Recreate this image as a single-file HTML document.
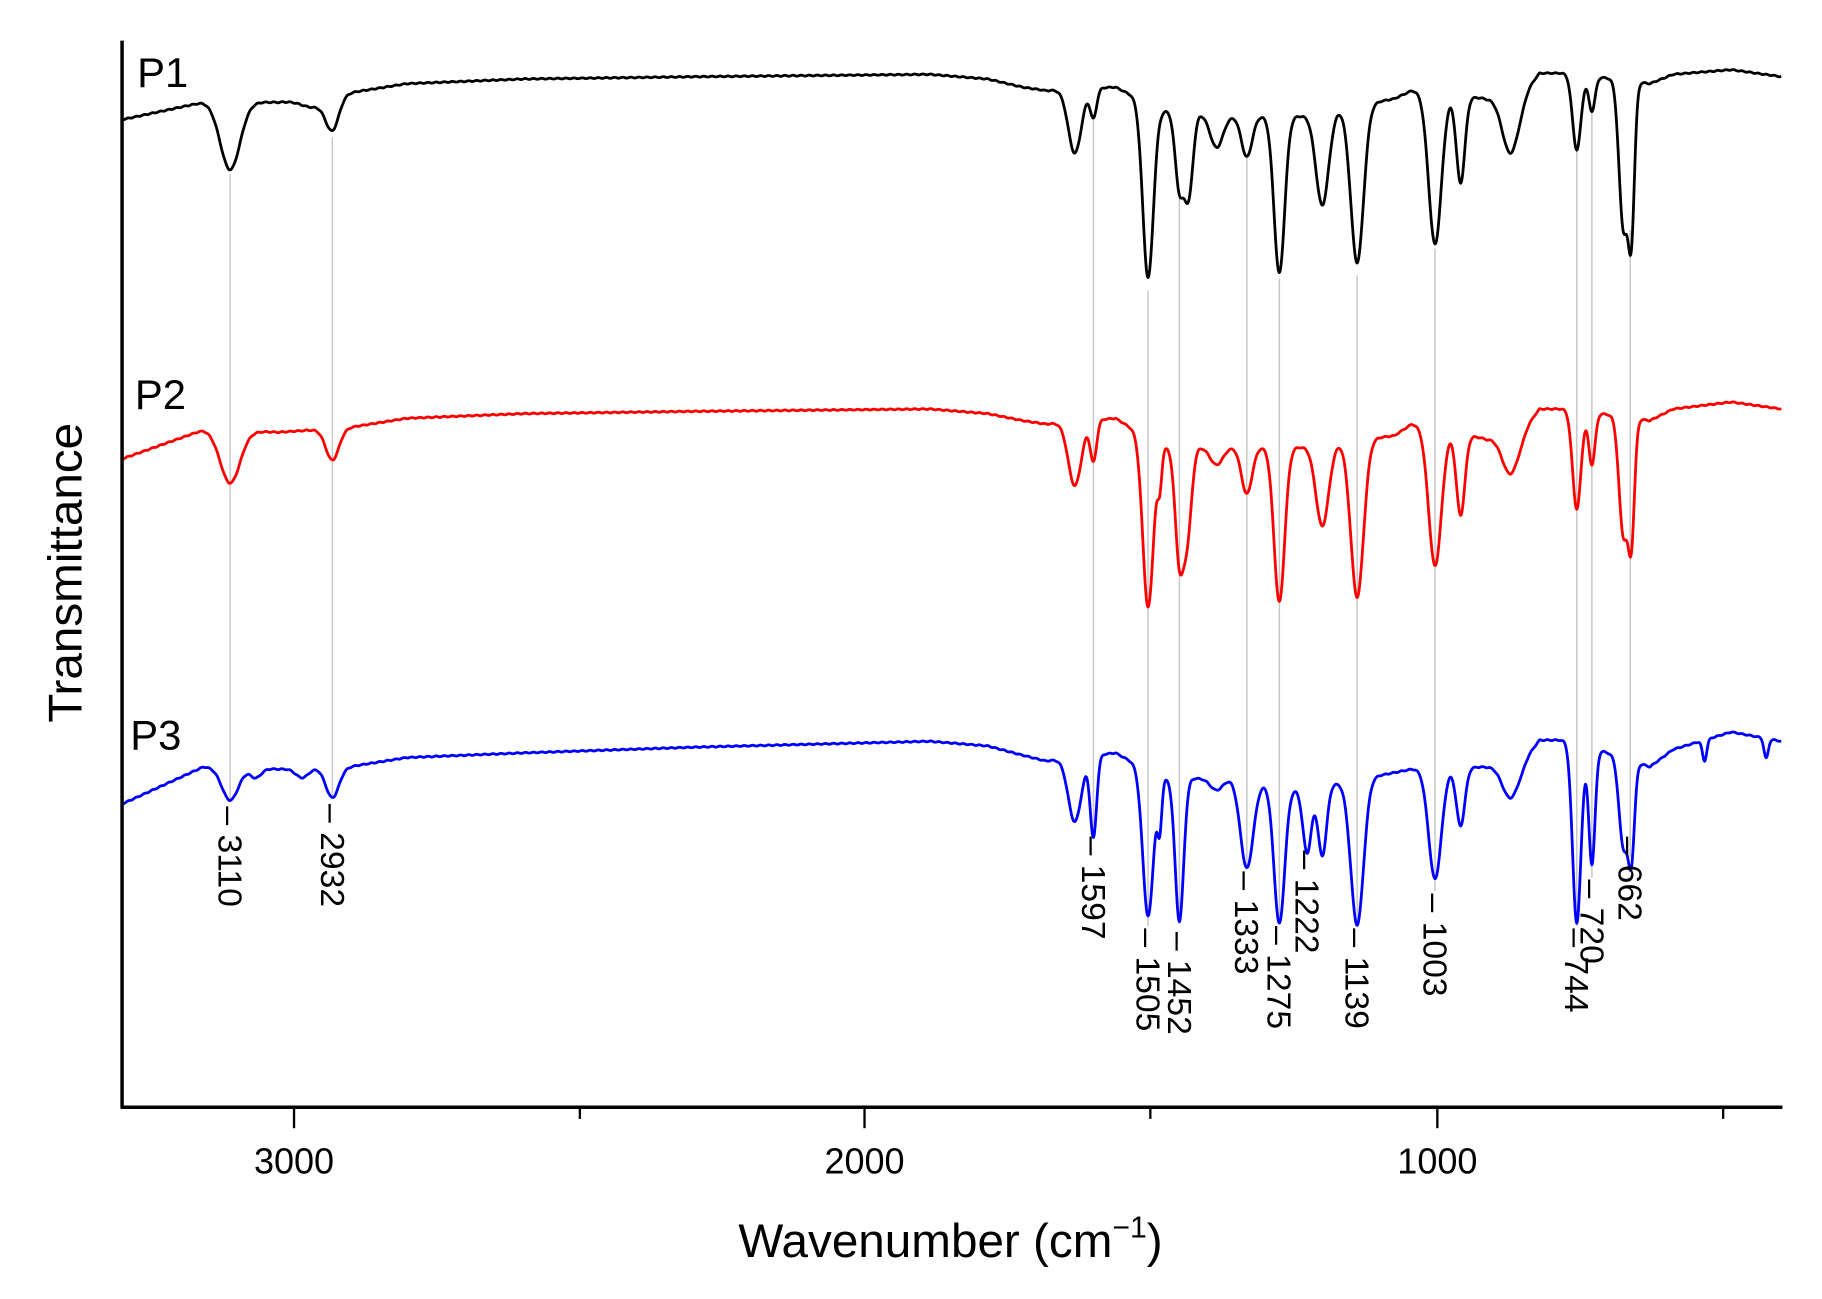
<!DOCTYPE html>
<html><head><meta charset="utf-8"><style>
html,body{margin:0;padding:0;background:#fff;}
svg{display:block;}
text{font-family:"Liberation Sans",Arial,sans-serif;}
</style></head><body>
<svg id="s" width="1822" height="1299" viewBox="0 0 1568 1118" xmlns="http://www.w3.org/2000/svg">
<g id="grid" stroke="#c8c8c8" stroke-width="1.3"></g>
<g id="curves" fill="none" stroke-width="2.4" stroke-linejoin="round"></g>
<line x1="105" y1="35" x2="105" y2="954" stroke="#000" stroke-width="3"/>
<line x1="104" y1="953" x2="1534" y2="953" stroke="#000" stroke-width="3"/>
<g stroke="#000" stroke-width="2">
<line x1="253" y1="953" x2="253" y2="971"/><line x1="744" y1="953" x2="744" y2="971"/><line x1="1237" y1="953" x2="1237" y2="971"/>
<line x1="499" y1="953" x2="499" y2="963"/><line x1="990" y1="953" x2="990" y2="963"/><line x1="1483" y1="953" x2="1483" y2="963"/>
</g>
<g font-size="31" text-anchor="middle">
<text x="253" y="1010">3000</text><text x="744" y="1010">2000</text><text x="1237" y="1010">1000</text>
</g>
<text x="818" y="1082" font-size="41" text-anchor="middle">Wavenumber (cm<tspan dy="-17" font-size="26">−1</tspan><tspan dy="17">)</tspan></text>
<text transform="translate(70,493) rotate(-90)" font-size="41" text-anchor="middle">Transmittance</text>
<g font-size="36"><text x="118" y="75">P1</text><text x="116" y="352">P2</text><text x="112" y="645">P3</text></g>
<g id="labels" font-size="29"></g>
</svg>
<script>
function interp(b,x){for(let i=0;i<b.length-1;i++){if(x>=b[i][0]&&x<=b[i+1][0]){let t=(x-b[i][0])/(b[i+1][0]-b[i][0]);return b[i][1]+t*(b[i+1][1]-b[i][1]);}}return b[b.length-1][1];}
function path(base,dips){let d="";for(let x=105;x<=1533;x+=0.5){let y=interp(base,x);for(const p of dips){let w=p[2]<=6?p[2]*1.3:p[2];y+=p[1]*Math.exp(-Math.pow((x-p[0])/w,2));}
y+=Math.sin(x*0.9)*0.4;d+=(x==105?"M":"L")+x.toFixed(1)+","+y.toFixed(1);}return d;}
const b1=[[105,103],[175,88],[240,88],[300,80],[350,72],[450,68],[600,66],[800,64],[850,68],[880,75],[900,78],[960,75],[1000,95],[1060,100],[1120,100],[1200,85],[1215,78],[1280,85],[1310,80],[1325,63],[1350,63],[1420,72],[1440,64],[1490,60],[1533,66]];
const d1=[[198,58,12],[286,28,8],[270,8,15],[925,55,8],[941,25,3],[988,150,5],[1015,65,4],[1023,70,4],[1047,28,6],[1073,35,5],[1101,135,5],[1138,80,6],[1168,135,6],[1235,130,6],[1257,75,4],[1300,50,10],[1357,65,4],[1370,30,3],[1397,125,4],[1404,125,3]];
const b2=[[105,395],[175,370],[240,372],[300,368],[350,360],[450,356],[600,354],[800,352],[850,356],[880,362],[900,365],[960,360],[1000,385],[1060,385],[1120,385],[1200,375],[1215,365],[1280,378],[1310,370],[1325,352],[1350,352],[1420,362],[1440,352],[1490,346],[1533,352]];
const d2=[[198,45,12],[286,27,8],[925,55,8],[941,35,3],[988,145,5],[998,30,2],[1015,95,4],[1022,70,4],[1047,15,6],[1073,40,5],[1101,133,5],[1138,70,6],[1168,135,6],[1235,118,6],[1257,70,4],[1300,35,10],[1357,85,4],[1370,45,3],[1397,100,4],[1404,100,3]];
const b3=[[105,692],[175,660],[240,662],[300,660],[350,652],[450,648],[600,643],[800,638],[850,642],[880,650],[900,655],[960,648],[1000,670],[1060,670],[1120,680],[1200,665],[1215,662],[1280,660],[1310,655],[1325,637],[1350,637],[1420,660],[1440,645],[1490,630],[1533,638]];
const d3=[[198,28,10],[220,8,5],[286,26,8],[260,8,6],[925,55,8],[941,70,3],[988,125,5],[998,40,2],[1015,123,4],[1047,10,6],[1073,75,6],[1101,118,5],[1125,55,4],[1138,60,4],[1168,125,6],[1235,95,6],[1257,50,4],[1300,30,10],[1357,155,4],[1370,100,3],[1397,75,4],[1404,80,3],[1467,18,2],[1520,17,2]];
const c=document.getElementById("curves");
[[b1,d1,"#000"],[b2,d2,"#ff0000"],[b3,d3,"#0000ff"]].forEach(s=>{const p=document.createElementNS("http://www.w3.org/2000/svg","path");p.setAttribute("d",path(s[0],s[1]));p.setAttribute("stroke",s[2]);c.appendChild(p);});
const g=document.getElementById("grid");
const L=[[198,150,690,"3110",692],[286,118,688,"2932",690],[941,100,718,"1597",718],[988,250,797,"1505",797],[1015,170,795,"1452",800],[1073,135,745,"1333",748],[1101,240,792,"1275",795],[1125,0,0,"1222",730],[1168,237,797,"1139",797],[1235,214,767,"1003",767],[1357,130,797,"744",797],[1370,97,755,"720",755],[1403,198,738,"662",718]];
const lab=document.getElementById("labels");
L.forEach(l=>{if(l[1]){const ln=document.createElementNS("http://www.w3.org/2000/svg","line");ln.setAttribute("x1",l[0]);ln.setAttribute("x2",l[0]);ln.setAttribute("y1",l[1]);ln.setAttribute("y2",l[2]);g.appendChild(ln);}
const t=document.createElementNS("http://www.w3.org/2000/svg","text");t.setAttribute("transform","translate("+(l[0]-10)+","+(l[4]+2)+") rotate(90)");t.textContent="– "+l[3];lab.appendChild(t);});
</script>
</body></html>
